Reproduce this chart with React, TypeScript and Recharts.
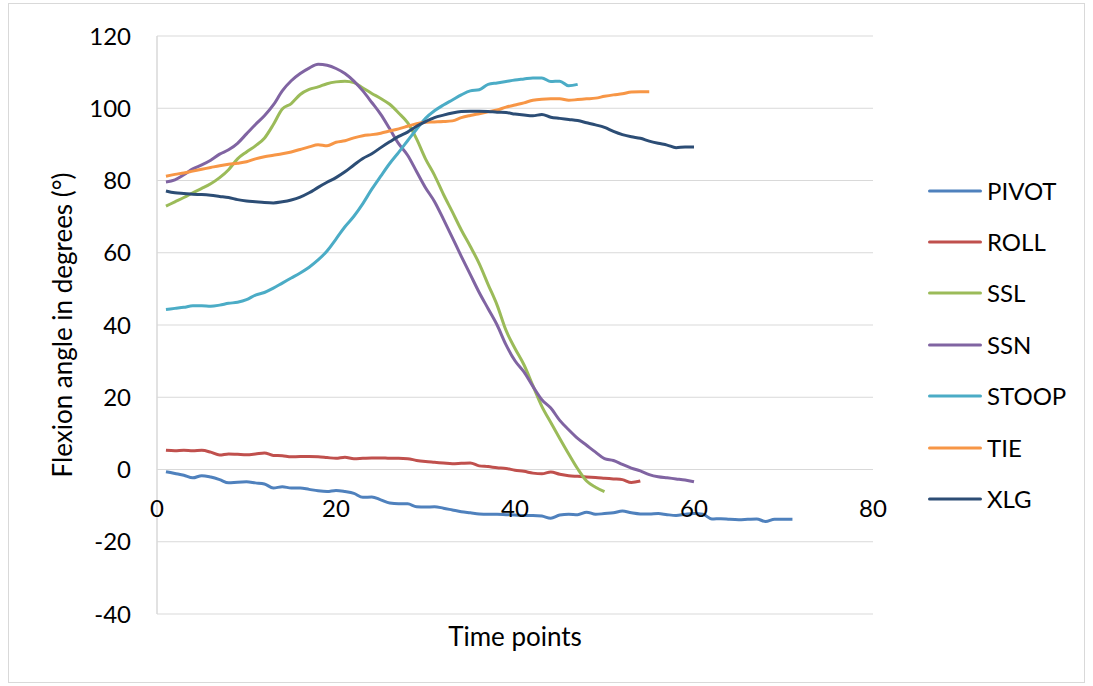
import React from 'react';
import { LineChart, Line, XAxis, YAxis, CartesianGrid, Legend, Label } from 'recharts';

// series, one value per time point starting at t = 1
const pivotValues = [
    -0.6, -1.1, -1.6, -2.3, -1.7, -2.1, -2.8, -3.7, -3.5, -3.4,
    -3.7, -4.0, -5.1, -4.8, -5.1, -5.1, -5.5, -5.9, -6.1, -5.8,
    -6.1, -6.6, -7.7, -7.6, -8.4, -9.3, -9.5, -9.5, -10.3, -10.4,
    -10.3, -10.7, -11.2, -11.7, -12.0, -12.3, -12.4, -12.4, -12.5, -12.6,
    -12.7, -12.7, -12.9, -13.5, -12.6, -12.4, -12.5, -11.8, -12.4, -12.2,
    -12.0, -11.5, -12.0, -12.3, -12.3, -12.2, -12.5, -12.7, -12.4, -12.2,
    -12.4, -13.7, -13.6, -13.8, -13.9, -13.8, -13.7, -14.4, -13.8, -13.8,
    -13.8,
];
const rollValues = [
    5.3, 5.2, 5.3, 5.2, 5.3, 4.8, 4.0, 4.3, 4.2, 4.1,
    4.3, 4.6, 3.9, 3.8, 3.5, 3.6, 3.6, 3.5, 3.3, 3.1,
    3.4, 3.0, 3.1, 3.2, 3.2, 3.1, 3.1, 3.0, 2.5, 2.2,
    2.0, 1.8, 1.6, 1.7, 1.8, 1.0, 0.8, 0.5, 0.3, -0.2,
    -0.5, -1.0, -1.2, -0.7, -1.3, -1.7, -1.9, -2.1, -2.2, -2.4,
    -2.6, -2.8, -3.6, -3.2,
];
const sslValues = [
    72.9, 74.1, 75.3, 76.6, 77.8, 79.1, 80.8, 83.0, 86.0, 87.9,
    89.6, 91.7, 95.5, 99.8, 101.3, 103.8, 105.2, 105.9, 106.8, 107.3,
    107.5, 107.1, 105.6, 104.1, 102.7, 101.1, 98.7, 96.0, 91.5, 86.0,
    81.5, 76.2, 71.3, 66.3, 61.8, 57.0, 51.2, 45.5, 38.5, 33.5,
    29.0, 23.2, 17.5, 13.0, 8.6, 4.3, 0.2, -3.2, -4.9, -6.1,
];
const ssnValues = [
    79.6, 80.2, 81.6, 83.2, 84.3, 85.6, 87.3, 88.5, 90.3, 92.9,
    95.5, 97.9, 100.9, 104.8, 107.6, 109.6, 111.1, 112.2, 111.9, 111.0,
    109.6, 107.5, 104.8, 101.6, 98.3, 94.3, 90.2, 87.0, 82.5, 78.0,
    74.2, 69.3, 64.2, 59.0, 54.0, 49.0, 44.5, 40.0, 34.5, 30.1,
    27.0, 23.0, 19.3, 17.0, 13.6, 11.0, 8.6, 6.7, 4.8, 3.0,
    2.5, 1.4, 0.4, -0.4, -1.4, -2.0, -2.3, -2.6, -2.9, -3.4,
];
const stoopValues = [
    44.3, 44.6, 44.9, 45.3, 45.3, 45.2, 45.5, 46.0, 46.3, 47.0,
    48.3, 49.0, 50.2, 51.6, 53.0, 54.4, 56.0, 58.0, 60.5, 63.8,
    67.2, 70.1, 73.6, 77.6, 81.2, 84.7, 87.8, 91.0, 94.2, 97.2,
    99.3, 100.9, 102.3, 103.7, 104.8, 105.1, 106.6, 107.0, 107.4, 107.8,
    108.1, 108.4, 108.4, 107.4, 107.5, 106.2, 106.6,
];
const tieValues = [
    81.2, 81.7, 82.1, 82.6, 83.1, 83.6, 84.1, 84.5, 84.8, 85.2,
    86.0, 86.6, 87.0, 87.4, 87.9, 88.6, 89.3, 89.9, 89.6, 90.6,
    91.0, 91.8, 92.4, 92.7, 93.1, 93.7, 94.3, 95.0, 95.7, 96.1,
    96.2, 96.3, 96.5, 97.4, 98.0, 98.5, 99.0, 99.5, 100.3, 100.9,
    101.5, 102.2, 102.5, 102.6, 102.6, 102.2, 102.4, 102.6, 102.8, 103.3,
    103.7, 104.0, 104.5, 104.6, 104.6,
];
const xlgValues = [
    77.1, 76.6, 76.4, 76.2, 76.1, 75.9, 75.6, 75.3, 74.7, 74.3,
    74.1, 73.9, 73.8, 74.1, 74.6, 75.4, 76.6, 78.1, 79.5, 80.8,
    82.4, 84.3, 86.1, 87.4, 89.1, 90.7, 92.2, 93.4, 95.0, 96.3,
    97.4, 98.1, 98.7, 99.1, 99.2, 99.2, 99.1, 98.9, 98.8, 98.4,
    98.1, 97.9, 98.3, 97.5, 97.2, 96.9, 96.6, 96.0, 95.4, 94.7,
    93.6, 92.7, 92.1, 91.7, 90.9, 90.3, 89.8, 89.1, 89.3, 89.3,
];

const seriesNames = ['PIVOT', 'ROLL', 'SSL', 'SSN', 'STOOP', 'TIE', 'XLG'];
const seriesValues = [pivotValues, rollValues, sslValues, ssnValues, stoopValues, tieValues, xlgValues];
const seriesColors = ['#4F81BD', '#C0504D', '#9BBB59', '#8064A2', '#4BACC6', '#F79646', '#2C4D75'];

const xTicks = [0, 20, 40, 60, 80];
const yTicks = [-40, -20, 0, 20, 40, 60, 80, 100, 120];
const xDomain: [number, number] = [0, 80];
const yDomain: [number, number] = [-40, 120];

const toPoints = (values: number[]) => values.map((v, i) => ({ t: i + 1, v }));

const W = 1093;
const H = 686;
const PLOT_LEFT = 157;
const PLOT_RIGHT = 873;
const PLOT_TOP = 36;
const PLOT_BOTTOM = 614;
const Y_AXIS_W = 60;
const X_AXIS_H = 30;
// excel puts the category labels under the horizontal axis, which crosses at y = 0
const ZERO_Y = PLOT_TOP + ((yDomain[1] - 0) / (yDomain[1] - yDomain[0])) * (PLOT_BOTTOM - PLOT_TOP);

const GRID = '#D9D9D9';
const FONT = 'Lato, "Open Sans", sans-serif';

const XTick = ({ x, payload }: any) => (
    <text x={x} y={ZERO_Y + 38} textAnchor="middle" dominantBaseline="central" fontSize={24} fill="#000">
        {payload.value}
    </text>
);

const LegendList = ({ payload }: any) => (
    <div style={{ display: 'flex', flexDirection: 'column' }}>
        {(payload || []).map((item: any) => (
            <div key={item.value} style={{ height: 51.4, display: 'flex', alignItems: 'center' }}>
                <svg width={54} height={6} style={{ marginRight: 5 }}>
                    <line x1={1.5} y1={3} x2={52.5} y2={3} stroke={item.color} strokeWidth={3} strokeLinecap="round" />
                </svg>
                <span style={{ fontSize: 24, color: '#000', lineHeight: 1 }}>{item.value}</span>
            </div>
        ))}
    </div>
);

export default function App() {
    return (
        <div style={{ position: 'absolute', left: 0, top: 0, width: W, height: H, background: '#fff', fontFamily: FONT }}>
            <div style={{ position: 'absolute', left: 8, top: 3, width: 1077, height: 680, border: '1px solid #D9D9D9', boxSizing: 'border-box' }} />
            <LineChart
                width={W}
                height={H}
                margin={{
                    top: PLOT_TOP,
                    right: W - PLOT_RIGHT,
                    bottom: H - PLOT_BOTTOM - X_AXIS_H,
                    left: PLOT_LEFT - Y_AXIS_W,
                }}
            >
                <CartesianGrid vertical={false} stroke={GRID} strokeWidth={1} />
                <XAxis
                    dataKey="t"
                    type="number"
                    domain={xDomain}
                    ticks={xTicks}
                    height={X_AXIS_H}
                    axisLine={false}
                    tickLine={false}
                    tick={<XTick />}
                    interval={0}
                >
                    <Label
                        content={({ viewBox }: any) => (
                            <text x={viewBox.x + viewBox.width / 2} y={636} textAnchor="middle" dominantBaseline="central" fontSize={26} fill="#000">
                                Time points
                            </text>
                        )}
                    />
                </XAxis>
                <YAxis
                    type="number"
                    domain={yDomain}
                    ticks={yTicks}
                    width={Y_AXIS_W}
                    axisLine={{ stroke: GRID, strokeWidth: 1.5 }}
                    tickLine={false}
                    tickSize={0}
                    tickMargin={26}
                    interval={0}
                    tick={{ fontSize: 24, fill: '#000' }}
                >
                    <Label
                        content={({ viewBox }: any) => {
                            const cx = PLOT_LEFT - 95;
                            const cy = viewBox.y + viewBox.height / 2;
                            return (
                                <text x={cx} y={cy} transform={`rotate(-90 ${cx} ${cy})`} textAnchor="middle" dominantBaseline="central" fontSize={26} fill="#000">
                                    Flexion angle in degrees (°)
                                </text>
                            );
                        }}
                    />
                </YAxis>
                {seriesNames.map((name, i) => (
                    <Line
                        key={name}
                        data={toPoints(seriesValues[i])}
                        dataKey="v"
                        name={name}
                        type="monotone"
                        stroke={seriesColors[i]}
                        strokeWidth={3}
                        dot={false}
                        activeDot={false}
                        isAnimationActive={false}
                    />
                ))}
                <Legend
                    layout="vertical"
                    align="center"
                    verticalAlign="middle"
                    content={<LegendList />}
                    wrapperStyle={{ left: 928, top: 165, width: 160 }}
                />
            </LineChart>
        </div>
    );
}
